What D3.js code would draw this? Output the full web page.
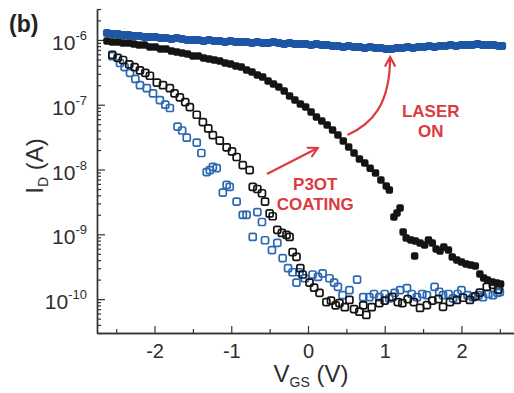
<!DOCTYPE html>
<html>
<head>
<meta charset="utf-8">
<script src="https://cdn.jsdelivr.net/npm/d3@7"></script>
<style>
  body { margin: 0; background: #fff; }
  svg { display: block; font-family: "Liberation Sans", Arial, sans-serif; }
</style>
</head>
<body>
<script>
// ---------------- DATA ----------------
// [V_GS (V), I_D (A)]
const laserOn = [
  [-2.62,1.278e-6],[-2.55,1.233e-6],[-2.48,1.233e-6],[-2.41,1.19e-6],[-2.34,1.19e-6],[-2.27,1.148e-6],
  [-2.20,1.148e-6],[-2.13,1.108e-6],[-2.06,1.108e-6],[-1.99,1.108e-6],[-1.92,1.07e-6],[-1.85,1.07e-6],
  [-1.78,1.032e-6],[-1.71,1.07e-6],[-1.64,1.032e-6],[-1.57,0.996e-6],[-1.50,0.996e-6],[-1.43,0.996e-6],
  [-1.36,0.961e-6],[-1.29,0.996e-6],[-1.22,0.961e-6],[-1.15,0.961e-6],[-1.08,0.928e-6],[-1.01,0.961e-6],
  [-0.94,0.928e-6],[-0.87,0.928e-6],[-0.80,0.928e-6],[-0.73,0.896e-6],[-0.66,0.928e-6],[-0.59,0.896e-6],
  [-0.52,0.896e-6],[-0.45,0.928e-6],[-0.38,0.896e-6],[-0.31,0.865e-6],[-0.24,0.896e-6],[-0.17,0.865e-6],
  [-0.10,0.865e-6],[-0.03,0.865e-6],[0.04,0.834e-6],[0.11,0.865e-6],[0.18,0.834e-6],[0.25,0.834e-6],
  [0.32,0.805e-6],[0.39,0.805e-6],[0.46,0.777e-6],[0.53,0.805e-6],[0.60,0.777e-6],[0.67,0.777e-6],
  [0.74,0.75e-6],[0.81,0.777e-6],[0.88,0.75e-6],[0.95,0.75e-6],[1.02,0.724e-6],[1.09,0.724e-6],
  [1.16,0.75e-6],[1.23,0.75e-6],[1.30,0.777e-6],[1.37,0.75e-6],[1.44,0.777e-6],[1.51,0.777e-6],
  [1.58,0.805e-6],[1.65,0.777e-6],[1.72,0.805e-6],[1.79,0.805e-6],[1.86,0.834e-6],[1.93,0.805e-6],
  [2.00,0.834e-6],[2.07,0.834e-6],[2.14,0.834e-6],[2.21,0.865e-6],[2.28,0.834e-6],[2.35,0.834e-6],
  [2.42,0.834e-6],[2.49,0.805e-6],[2.53,0.805e-6]
];
const p3otCoating = [
  [-2.62,9.62e-7],[-2.55,9.28e-7],[-2.48,9.28e-7],[-2.41,8.96e-7],[-2.34,8.96e-7],[-2.27,8.65e-7],
  [-2.20,8.34e-7],[-2.13,8.34e-7],[-2.06,7.77e-7],[-1.99,7.77e-7],[-1.92,7.24e-7],[-1.85,7.24e-7],
  [-1.78,6.74e-7],[-1.71,6.51e-7],[-1.64,6.28e-7],[-1.57,6.06e-7],[-1.50,5.65e-7],[-1.43,5.65e-7],
  [-1.36,5.26e-7],[-1.29,5.07e-7],[-1.22,4.90e-7],[-1.15,4.72e-7],[-1.08,4.40e-7],[-1.01,4.25e-7],
  [-0.94,3.96e-7],[-0.87,3.82e-7],[-0.80,3.43e-7],[-0.73,3.20e-7],[-0.66,2.87e-7],[-0.59,2.67e-7],
  [-0.52,2.32e-7],[-0.45,2.09e-7],[-0.38,1.88e-7],[-0.31,1.63e-7],[-0.24,1.36e-7],[-0.17,1.18e-7],
  [-0.10,1.03e-7],[-0.03,9.22e-8],[0.04,7.73e-8],[0.11,6.46e-8],[0.18,5.60e-8],[0.25,4.86e-8],
  [0.32,4.07e-8],[0.39,3.41e-8],[0.46,2.75e-8],[0.53,2.22e-8],[0.60,1.80e-8],[0.67,1.45e-8],
  [0.74,1.26e-8],[0.81,1.05e-8],[0.88,8.83e-9],[0.95,6.89e-9],[1.02,5.56e-9],[1.06,4.83e-9],
  [1.12,1.85e-9],[1.16,2.13e-9],[1.20,2.55e-9],[1.24,1.09e-9],[1.28,8.78e-10],[1.34,8.17e-10],
  [1.39,4.63e-10],[1.40,7.88e-10],[1.46,7.34e-10],[1.52,6.84e-10],[1.57,8.17e-10],[1.62,7.34e-10],
  [1.67,5.93e-10],[1.72,5.52e-10],[1.77,6.37e-10],[1.83,5.73e-10],[1.88,4.47e-10],[1.94,4.01e-10],
  [2.00,3.74e-10],[2.06,3.48e-10],[2.12,3.36e-10],[2.18,3.24e-10],[2.24,2.44e-10],[2.29,2.12e-10],
  [2.34,1.97e-10],[2.40,1.84e-10],[2.46,1.77e-10],[2.51,1.71e-10]
];
const pristineDark = [
  [-2.55,5.9e-7],[-2.48,5.3e-7],[-2.41,4.9e-7],[-2.33,4.2e-7],[-2.26,3.8e-7],[-2.19,3.4e-7],
  [-2.12,3.1e-7],[-2.06,2.8e-7],[-1.97,2.2e-7],[-1.89,2.0e-7],[-1.80,1.8e-7],[-1.74,1.5e-7],
  [-1.67,1.3e-7],[-1.60,1.1e-7],[-1.54,9.2e-8],[-1.45,7.0e-8],[-1.37,5.4e-8],[-1.30,4.3e-8],
  [-1.24,3.4e-8],[-1.15,2.8e-8],[-1.06,2.2e-8],[-0.99,1.9e-8],[-0.93,1.56e-8],[-0.85,1.17e-8],
  [-0.76,9.8e-9],[-0.72,5.4e-9],[-0.66,5.0e-9],[-0.60,4.3e-9],[-0.56,3.2e-9],[-0.50,2.1e-9],
  [-0.46,1.9e-9],[-0.40,1.17e-9],[-0.34,1.05e-9],[-0.28,9.8e-10],[-0.24,9.1e-10],[-0.20,5.3e-10],
  [-0.15,4.5e-10],[-0.10,3.0e-10],[-0.07,2.4e-10],[0.02,1.8e-10],[0.08,1.5e-10],[0.15,1.25e-10],
  [0.24,9.0e-11],[0.30,9.5e-11],[0.36,8.0e-11],[0.41,8.7e-11],[0.48,7.5e-11],[0.54,9.7e-11],
  [0.60,7.0e-11],[0.67,6.4e-11],[0.72,8.0e-11],[0.76,5.7e-11],[0.83,7.5e-11],[0.93,8.7e-11],
  [1.00,9.5e-11],[1.10,1.08e-10],[1.17,9.0e-11],[1.23,8.7e-11],[1.30,1.0e-10],[1.38,9.0e-11],
  [1.46,7.3e-11],[1.55,8.1e-11],[1.62,9.5e-11],[1.70,1.0e-10],[1.76,7.6e-11],[1.85,9.0e-11],
  [1.94,9.7e-11],[2.02,1.05e-10],[2.11,9.7e-11],[2.18,1.1e-10],[2.24,1.26e-10],[2.33,1.55e-10],
  [2.41,1.66e-10],[2.48,1.4e-10]
];
const pristineBlue = [
  [-2.55,5.6e-7],[-2.45,4.4e-7],[-2.39,3.8e-7],[-2.32,3.1e-7],[-2.25,2.5e-7],[-2.19,2.0e-7],
  [-2.10,1.8e-7],[-2.02,1.5e-7],[-1.93,1.18e-7],[-1.86,1.0e-7],[-1.80,8.9e-8],[-1.70,4.6e-8],
  [-1.64,4.0e-8],[-1.58,3.1e-8],[-1.45,2.6e-8],[-1.39,1.8e-8],[-1.32,9.1e-9],[-1.28,9.8e-9],
  [-1.24,1.1e-8],[-1.19,1.05e-8],[-1.11,4.4e-9],[-1.06,5.8e-9],[-1.02,5.4e-9],[-0.93,3.2e-9],
  [-0.85,2.0e-9],[-0.80,2.0e-9],[-0.72,9.1e-10],[-0.66,2.2e-9],[-0.60,1.55e-9],[-0.56,8.1e-10],
  [-0.47,5.7e-10],[-0.40,7.4e-10],[-0.33,4.3e-10],[-0.26,3.0e-10],[-0.20,2.6e-10],[-0.15,1.8e-10],
  [-0.11,2.6e-10],[-0.04,2.1e-10],[0.06,2.4e-10],[0.13,2.2e-10],[0.19,2.5e-10],[0.28,2.1e-10],
  [0.34,1.8e-10],[0.39,1.55e-10],[0.45,1.15e-10],[0.54,1.38e-10],[0.64,2.0e-10],[0.72,1.07e-10],
  [0.80,1.07e-10],[0.86,1.2e-10],[0.93,1.07e-10],[1.00,1.2e-10],[1.06,1.03e-10],[1.13,1.25e-10],
  [1.20,1.38e-10],[1.29,1.48e-10],[1.35,1.2e-10],[1.42,1.07e-10],[1.49,1.2e-10],[1.55,1.15e-10],
  [1.65,1.55e-10],[1.71,1.3e-10],[1.76,1.15e-10],[1.83,1.2e-10],[1.89,1.03e-10],[1.95,1.2e-10],
  [2.00,1.38e-10],[2.08,1.15e-10],[2.15,1.07e-10],[2.22,1.15e-10],[2.28,1.07e-10],[2.35,1.2e-10],
  [2.41,1.15e-10],[2.47,1.25e-10],[2.50,1.29e-10]
];
const xMajorTicks = [-2, -1, 0, 1, 2];
const xTickLabels = ["-2", "-1", "0", "1", "2"];
const xMinorTicks = [-2.5, -1.5, -0.5, 0.5, 1.5, 2.5];
const yMajorTicks = [1e-10, 1e-9, 1e-8, 1e-7, 1e-6];
const yMajorExp = ["-10", "-9", "-8", "-7", "-6"];

// annotations in data coordinates
const arrowCoating = [[-0.535, 8.5e-9], [0.126, 2.15e-8]];
const arrowLaser = [[0.515, 3.41e-8], [0.83, 5.0e-8], [1.07, 9.9e-8], [1.07, 5.45e-7]];
const labelLaser = { v: 1.6, lines: [["LASER", 6.46e-8], ["ON", 3.18e-8]] };
const labelCoating = { v: 0.095, lines: [["P3OT", 4.83e-9], ["COATING", 2.37e-9]] };

// ---------------- CHART ----------------
const W = 514, H = 393;
const svg = d3.select("body").append("svg").attr("width", W).attr("height", H);

const x = d3.scaleLinear().domain([-2.75, 2.75]).range([97, 519]);
const y = d3.scaleLog().domain([3e-11, 3e-6]).range([333, 9]);

const axisColor = "#333";
const textColor = "#2e2e2e";

// minor y ticks
const yMinor = y.ticks().filter(v => !yMajorTicks.some(m => Math.abs(m - v) / m < 1e-6));

const gy = svg.append("g").attr("transform", "translate(97,0)");
gy.call(d3.axisLeft(y).tickValues(yMinor).tickSize(-4).tickSizeOuter(0).tickFormat(""));
gy.append("g").call(d3.axisLeft(y).tickValues(yMajorTicks).tickSize(-8).tickSizeOuter(0).tickPadding(10).tickFormat(""));
gy.selectAll("path.domain").attr("stroke", axisColor).attr("stroke-width", 1.4);
gy.selectAll("line").attr("stroke", axisColor).attr("stroke-width", 1.2);

gy.selectAll(".ylab").data(yMajorTicks).join("text")
  .attr("class", "ylab")
  .attr("x", -10).attr("y", d => y(d) + 10)
  .attr("text-anchor", "end").attr("fill", textColor)
  .attr("font-size", 21)
  .each(function(d, i) {
    const t = d3.select(this);
    t.append("tspan").text("10");
    t.append("tspan").attr("dy", -10).attr("font-size", 13).text(yMajorExp[i]);
  });

const gx = svg.append("g").attr("transform", "translate(0,333)");
gx.call(d3.axisBottom(x).tickValues(xMinorTicks).tickSize(-4).tickSizeOuter(0).tickFormat(() => ""));
const gxMaj = gx.append("g").call(d3.axisBottom(x).tickValues(xMajorTicks).tickSize(-7).tickSizeOuter(0)
  .tickPadding(11).tickFormat((d, i) => xTickLabels[i]));
gx.selectAll("path.domain").attr("stroke", axisColor).attr("stroke-width", 1.4);
gx.selectAll("line").attr("stroke", axisColor).attr("stroke-width", 1.2);
gxMaj.selectAll("text").attr("font-size", 20).attr("fill", textColor)
  .attr("font-family", "\"Liberation Sans\", Arial, sans-serif");

// axis titles
const xt = svg.append("text").attr("x", 311).attr("y", 382).attr("text-anchor", "middle")
  .attr("fill", textColor).attr("font-size", 24);
xt.append("tspan").text("V");
xt.append("tspan").attr("font-size", 14).attr("dy", 5).text("GS");
xt.append("tspan").attr("dy", -5).text(" (V)");

const yt = svg.append("text").attr("transform", "translate(43,166) rotate(-90)")
  .attr("text-anchor", "middle").attr("fill", textColor).attr("font-size", 24);
yt.append("tspan").text("I");
yt.append("tspan").attr("font-size", 14).attr("dy", 5).text("D");
yt.append("tspan").attr("dy", -5).text(" (A)");

svg.append("text").attr("x", 9).attr("y", 32).attr("font-size", 23).attr("font-weight", "bold")
  .attr("fill", "#222").text("(b)");

// ---------------- MARKS ----------------
const blueOpen = "#2d68b3", blueFill = "#1c56a5", black = "#141414";

function openMarks(data, color, s) {
  svg.append("g").selectAll("rect").data(data).join("rect")
    .attr("x", d => x(d[0]) - s / 2).attr("y", d => y(d[1]) - s / 2)
    .attr("width", s).attr("height", s).attr("rx", 1.8)
    .attr("fill", "#fff").attr("fill-opacity", 0).attr("stroke", color).attr("stroke-width", 1.7);
}
function filledMarks(data, color, s) {
  svg.append("g").selectAll("rect").data(data).join("rect")
    .attr("x", d => x(d[0]) - s / 2).attr("y", d => y(d[1]) - s / 2)
    .attr("width", s).attr("height", s).attr("rx", 2.2)
    .attr("fill", color);
}
openMarks(pristineBlue, blueOpen, 7);
openMarks(pristineDark, black, 7);
filledMarks(p3otCoating, black, 7.5);
filledMarks(laserOn, blueFill, 8);

// ---------------- ANNOTATIONS ----------------
const red = "#dd3a40";
function arrowHead(tip, from) {
  const ang = Math.atan2(tip[1] - from[1], tip[0] - from[0]);
  const L = 10, a = 0.5;
  const p1 = [tip[0] - L * Math.cos(ang - a), tip[1] - L * Math.sin(ang - a)];
  const p2 = [tip[0] - L * Math.cos(ang + a), tip[1] - L * Math.sin(ang + a)];
  svg.append("path").attr("d", `M${p1}L${tip}L${p2}`).attr("fill", "none")
    .attr("stroke", red).attr("stroke-width", 2.2).attr("stroke-linejoin", "miter").attr("stroke-linecap", "round");
}
const a1 = arrowCoating.map(d => [x(d[0]), y(d[1])]);
svg.append("path").attr("d", `M${a1[0]}L${a1[1]}`).attr("stroke", red).attr("stroke-width", 2.2).attr("fill", "none");
arrowHead(a1[1], a1[0]);

const a2 = arrowLaser.map(d => [x(d[0]), y(d[1])]);
svg.append("path").attr("d", `M${a2[0]}C${a2[1]} ${a2[2]} ${a2[3]}`).attr("stroke", red).attr("stroke-width", 2.2).attr("fill", "none");
arrowHead(a2[3], a2[2]);

[labelLaser, labelCoating].forEach(lb => {
  lb.lines.forEach(([t, v]) => {
    svg.append("text").attr("x", x(lb.v)).attr("y", y(v)).attr("text-anchor", "middle")
      .attr("font-size", 17).attr("font-weight", "bold").attr("fill", red).text(t);
  });
});
</script>
</body>
</html>
